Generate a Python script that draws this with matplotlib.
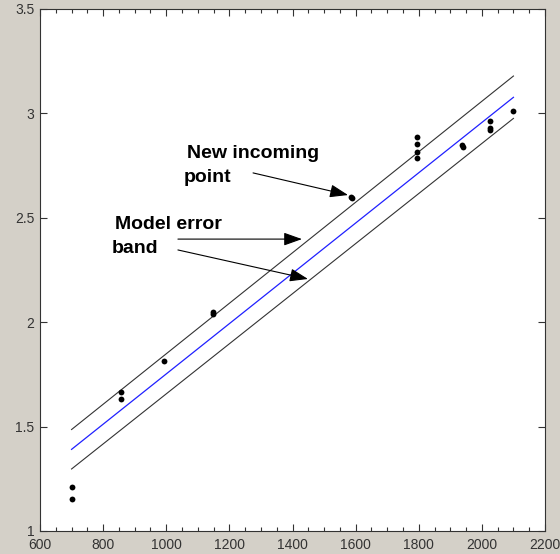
import matplotlib
matplotlib.use("Agg")
import matplotlib.pyplot as plt
from matplotlib.ticker import MultipleLocator

# measured points
pts_x = [700, 700, 858, 858, 992, 1147, 1147, 1586, 1590, 1795, 1795, 1795, 1795,
         1938, 1940, 2025, 2025, 2025, 2098]
pts_y = [1.209, 1.153, 1.664, 1.632, 1.816, 2.049, 2.040, 2.601, 2.596, 2.888, 2.853,
         2.817, 2.785, 2.850, 2.840, 2.965, 2.929, 2.919, 3.013]

# model fit and error band ends
fit_x = [700, 2100]
fit_y = [1.391, 3.077]
upper_y = [1.486, 3.179]
lower_y = [1.297, 2.976]

x_ticks = list(range(600, 2201, 200))
y_ticks = [1, 1.5, 2, 2.5, 3, 3.5]
y_labels = ["1", "1.5", "2", "2.5", "3", "3.5"]

plt.rcParams["font.family"] = ["Liberation Sans", "DejaVu Sans"]

fig = plt.figure(figsize=(5.6, 5.54), dpi=100, facecolor="#d4d0c8")
ax = fig.add_axes([40 / 560, 23 / 554, 505 / 560, 522 / 554])
ax.set_facecolor("white")

ax.plot(fit_x, upper_y, color="#333333", lw=0.8)
ax.plot(fit_x, lower_y, color="#333333", lw=0.8)
ax.plot(fit_x, fit_y, color="#2020ff", lw=0.9)
ax.plot(pts_x, pts_y, "o", color="black", markersize=4.2, markeredgewidth=0)

ax.set_xlim(600, 2200)
ax.set_ylim(1, 3.5)
ax.xaxis.set_minor_locator(MultipleLocator(50))
ax.set_xticks(x_ticks)
ax.set_xticklabels([str(v) for v in x_ticks])
ax.set_yticks(y_ticks)
ax.set_yticklabels(y_labels)
ax.tick_params(which="both", direction="in", top=True, right=True,
               labelsize=10, labelcolor="#333333", color="#333333")
ax.tick_params(axis="x", pad=5)
ax.tick_params(axis="y", pad=4)
ax.tick_params(which="major", length=5, width=0.8)
ax.tick_params(which="minor", length=3, width=0.8)
for s in ax.spines.values():
    s.set_color("#333333")
    s.set_linewidth(0.8)

txt = dict(fontsize=14, fontweight="bold", va="center", ha="left", color="black")
ax.text(1065, 2.810, "New incoming", **txt)
ax.text(1055, 2.691, "point", **txt)
ax.text(837, 2.470, "Model error", **txt)
ax.text(828, 2.355, "band", **txt)

arrow = dict(arrowstyle="-|>,head_length=0.7,head_width=0.25", mutation_scale=16,
             lw=0.8, color="black", shrinkA=0, shrinkB=0)
ax.annotate("", xy=(1576, 2.609), xytext=(1275, 2.715), arrowprops=arrow)
ax.annotate("", xy=(1430, 2.398), xytext=(1037, 2.398), arrowprops=arrow)
ax.annotate("", xy=(1449, 2.207), xytext=(1037, 2.346), arrowprops=arrow)

fig.savefig("out.png", dpi=100, facecolor=fig.get_facecolor())
